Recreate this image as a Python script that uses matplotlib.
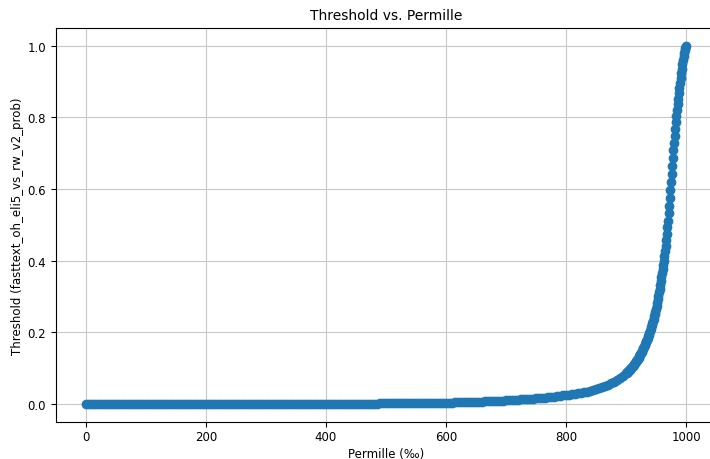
import numpy as np
import matplotlib.pyplot as plt

plt.rcParams['font.size'] = 8.5
plt.rcParams['xtick.major.pad'] = 2.5
plt.rcParams['axes.labelpad'] = 2.5

# permille positions: every 5 up to 895, then every single permille to 1000
permille = np.concatenate([np.arange(0, 900, 5), np.arange(900, 1001)])

# threshold at each permille position
threshold = [
    0.0000, 0.0000, 0.0000, 0.0000, 0.0000, 0.0000, 0.0000, 0.0000, 0.0000, 0.0000,
    0.0000, 0.0000, 0.0000, 0.0000, 0.0000, 0.0001, 0.0001, 0.0001, 0.0001, 0.0001,
    0.0001, 0.0001, 0.0001, 0.0001, 0.0001, 0.0001, 0.0001, 0.0001, 0.0001, 0.0001,
    0.0001, 0.0001, 0.0001, 0.0001, 0.0001, 0.0002, 0.0002, 0.0002, 0.0002, 0.0002,
    0.0002, 0.0002, 0.0002, 0.0002, 0.0002, 0.0002, 0.0002, 0.0002, 0.0002, 0.0002,
    0.0002, 0.0002, 0.0002, 0.0003, 0.0003, 0.0003, 0.0003, 0.0003, 0.0003, 0.0003,
    0.0003, 0.0003, 0.0004, 0.0004, 0.0004, 0.0004, 0.0005, 0.0005, 0.0005, 0.0005,
    0.0005, 0.0006, 0.0006, 0.0006, 0.0006, 0.0007, 0.0007, 0.0007, 0.0007, 0.0008,
    0.0008, 0.0008, 0.0009, 0.0009, 0.0009, 0.0010, 0.0010, 0.0010, 0.0011, 0.0011,
    0.0011, 0.0012, 0.0012, 0.0013, 0.0013, 0.0014, 0.0014, 0.0015, 0.0019, 0.0020,
    0.0021, 0.0022, 0.0022, 0.0023, 0.0024, 0.0025, 0.0025, 0.0026, 0.0027, 0.0028,
    0.0029, 0.0030, 0.0031, 0.0032, 0.0033, 0.0034, 0.0035, 0.0036, 0.0037, 0.0038,
    0.0039, 0.0041, 0.0043, 0.0045, 0.0047, 0.0049, 0.0051, 0.0054, 0.0057, 0.0060,
    0.0063, 0.0066, 0.0070, 0.0073, 0.0077, 0.0080, 0.0085, 0.0090, 0.0095, 0.0100,
    0.0105, 0.0110, 0.0115, 0.0120, 0.0125, 0.0130, 0.0135, 0.0140, 0.0150, 0.0155,
    0.0160, 0.0170, 0.0175, 0.0180, 0.0190, 0.0200, 0.0210, 0.0220, 0.0230, 0.0240,
    0.025, 0.026, 0.027, 0.028, 0.030, 0.031, 0.033, 0.035, 0.037, 0.039,
    0.041, 0.044, 0.047, 0.050, 0.054, 0.058, 0.062, 0.067, 0.073, 0.079,
    # 900 .. 950
    0.0860, 0.0875, 0.0890, 0.0905, 0.0920, 0.0940, 0.0958, 0.0976, 0.0994, 0.1012,
    0.1030, 0.1050, 0.1070, 0.1090, 0.1115, 0.1140, 0.1165, 0.1190, 0.1218, 0.1244,
    0.1270, 0.1300, 0.1330, 0.1360, 0.1390, 0.1420, 0.1455, 0.1490, 0.1525, 0.1560,
    0.1600, 0.1640, 0.1680, 0.1720, 0.1760, 0.1800, 0.1845, 0.1890, 0.1940, 0.1990,
    0.2040, 0.2095, 0.2150, 0.2205, 0.2260, 0.2320, 0.2380, 0.2445, 0.2510, 0.2580,
    0.2650,
    # 951 .. 1000
    0.274, 0.283, 0.292, 0.302, 0.312, 0.322, 0.332, 0.343, 0.354, 0.365,
    0.376, 0.388, 0.400, 0.413, 0.427, 0.442, 0.458, 0.475, 0.493, 0.512,
    0.532, 0.553, 0.575, 0.598, 0.620, 0.642, 0.664, 0.686, 0.708, 0.729,
    0.749, 0.768, 0.786, 0.803, 0.820, 0.836, 0.852, 0.867, 0.882, 0.896,
    0.910, 0.923, 0.936, 0.948, 0.959, 0.970, 0.980, 0.989, 0.995, 1.000,
]

fig = plt.figure(figsize=(7.1, 4.6), dpi=100)
ax = fig.add_axes([0.0785, 0.0804, 0.930, 0.857])

ax.plot(permille, threshold, marker='o', markersize=6, linewidth=1.1, color='#1f77b4')

ax.set_title('Threshold vs. Permille', fontsize=10)
ax.set_xlabel('Permille (‰)')
ax.set_ylabel('Threshold (fasttext_oh_eli5_vs_rw_v2_prob)')
ax.grid(True, color='#c8c8c8')

fig.savefig('out.png', dpi=100)
